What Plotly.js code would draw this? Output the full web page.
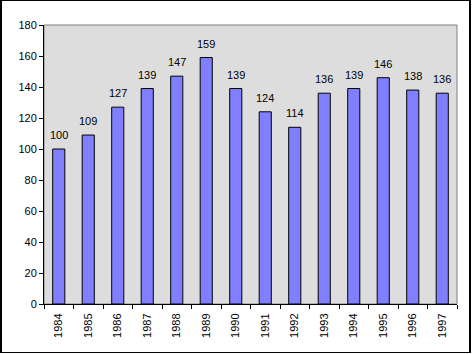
<!DOCTYPE html>
<html><head><meta charset="utf-8">
<script src="https://cdn.plot.ly/plotly-3.0.1.min.js"></script>
<style>
html,body{margin:0;padding:0;background:#fff;}
#wrap{position:relative;width:472px;height:354px;}
#chart{width:472px;height:354px;}
#frame{position:absolute;left:0;top:0;width:467px;height:351px;border:1px solid #000;border-left-width:2px;border-right-width:2px;pointer-events:none;}
</style></head>
<body><div id="wrap"><div id="chart"></div><div id="frame"></div></div>
<script>
const years = ['1984','1985','1986','1987','1988','1989','1990','1991','1992','1993','1994','1995','1996','1997'];
const values = [100,109,127,139,147,159,139,124,114,136,139,146,138,136];
const yTicks = [0,20,40,60,80,100,120,140,160,180];

const trace = {
  type:'bar', x: years, y: values,
  marker:{color:'#7F7FFF', line:{color:'#000', width:1}},
  hoverinfo:'none'
};
// category axis: annotation x given as category index
const labels = values.map((v,i)=>({
  x: i, y: v, xref:'x', yref:'y', text: String(v),
  showarrow:false, yanchor:'bottom', yshift:6,
  font:{family:'Liberation Sans, Arial, sans-serif', size:11, color:'#000'}
}));
const layout = {
  width:472, height:354,
  margin:{l:44, r:15, t:25, b:50},
  paper_bgcolor:'rgba(0,0,0,0)', plot_bgcolor:'#DDDDDD',
  bargap:0.59,
  showlegend:false,
  font:{family:'Liberation Sans, Arial, sans-serif', size:11, color:'#000'},
  xaxis:{type:'category', range:[-0.5, years.length-0.5], tickangle:-90, ticks:'outside', tickson:'boundaries', ticklen:4, tickcolor:'#000',
    showline:true, linecolor:'#000', linewidth:1, showgrid:false, zeroline:false,
    ticklabelstandoff:4, tickfont:{size:11}},
  yaxis:{range:[0,180], tickvals:yTicks, ticktext:yTicks.map(String), ticks:'outside', ticklen:4, tickcolor:'#000',
    showline:true, linecolor:'#000', linewidth:1, showgrid:false, zeroline:false, tickfont:{size:11}},
  annotations: labels,
  shapes:[{type:'rect', xref:'paper', yref:'paper', x0:0, x1:1, y0:0, y1:1, line:{color:'#808080', width:1}, layer:'below'}]
};
Plotly.newPlot('chart',[trace],layout,{displayModeBar:false, staticPlot:true});
</script></body></html>
